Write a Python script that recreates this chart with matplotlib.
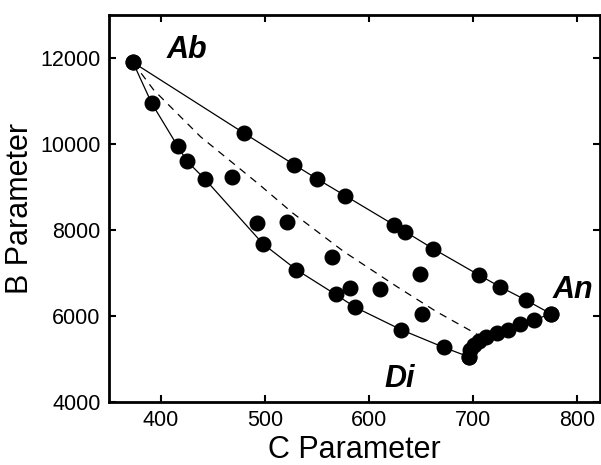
import matplotlib
matplotlib.use("Agg")
import matplotlib.pyplot as plt

plt.rcParams['font.family'] = ['Liberation Sans', 'DejaVu Sans']

# Ab-An join (upper curve)
upper_c = [373, 480, 528, 550, 577, 624, 635, 662, 706, 726, 751, 775]
upper_b = [11900, 10250, 9520, 9190, 8800, 8120, 7960, 7560, 6950, 6680, 6370, 6050]

# Ab-Di join (lower curve)
lower_c = [373, 391, 416, 425, 442, 498, 530, 568, 587, 631, 672, 696]
lower_b = [11900, 10950, 9950, 9600, 9190, 7680, 7080, 6500, 6200, 5680, 5270, 5050]

# Di-An join
dian_c = [696, 697, 701, 706, 713, 723, 734, 745, 759, 775]
dian_b = [5050, 5210, 5330, 5420, 5500, 5600, 5670, 5810, 5910, 6050]

# interior points
inner_c = [468, 492, 521, 564, 582, 611, 649, 651]
inner_b = [9230, 8170, 8190, 7380, 6640, 6630, 6980, 6040]

# dashed curve
dash_c = [373, 393, 438, 495, 527, 576, 627, 665, 705]
dash_b = [11900, 11256, 10170, 9047, 8388, 7495, 6681, 6100, 5560]

xticks = [400, 500, 600, 700, 800]
yticks = [4000, 6000, 8000, 10000, 12000]

labels = ["Ab", "An", "Di"]
label_c = [425, 796, 630]
label_b = [12000, 6410, 4356]

fig = plt.figure(figsize=(6.01, 4.65), dpi=100)
ax = fig.add_axes([0.1814, 0.1355, 0.8166, 0.8322])

ax.plot(upper_c, upper_b, color='black', lw=0.9, zorder=2)
ax.plot(lower_c, lower_b, color='black', lw=0.9, zorder=2)
ax.plot(dian_c, dian_b, color='black', lw=0.9, zorder=2)
ax.plot(dash_c, dash_b, color='black', lw=0.9, dashes=(6, 5), zorder=2)

ms = 10.5
for c, b in [(upper_c, upper_b), (lower_c, lower_b), (dian_c, dian_b), (inner_c, inner_b)]:
    ax.plot(c, b, 'o', color='black', ms=ms, ls='none', zorder=3)

for t, c, b in zip(labels, label_c, label_b):
    ax.text(c, b, t, fontsize=22, fontweight='bold', fontstyle='italic',
            ha='center', va='baseline')

ax.set_xlim(350, 822)
ax.set_ylim(4000, 13000)
ax.set_xticks(xticks)
ax.set_yticks(yticks)
ax.set_xticklabels([str(v) for v in xticks])
ax.set_yticklabels([str(v) for v in yticks])
ax.tick_params(direction='in', length=5, width=1.5, top=True, right=True,
               labelsize=15.5, pad=6)
for s in ax.spines.values():
    s.set_linewidth(2)

ax.set_xlabel("C Parameter", fontsize=22, labelpad=3)
ax.set_ylabel("B Parameter", fontsize=22, labelpad=4)

fig.savefig("out.png", dpi=100)
